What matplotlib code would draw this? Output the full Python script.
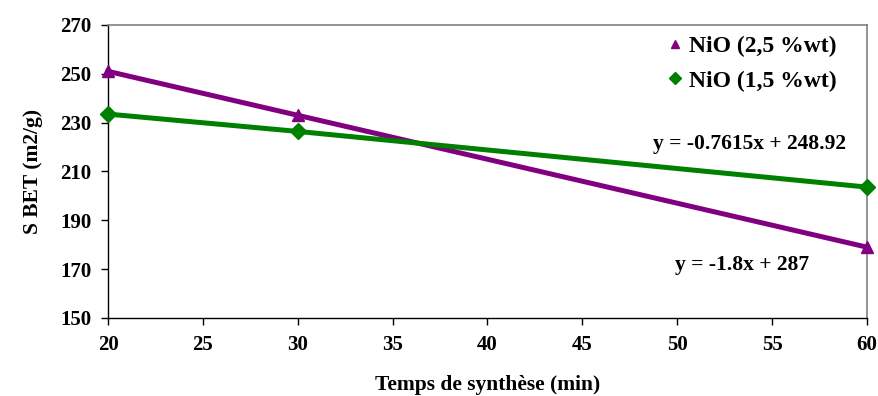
import matplotlib
matplotlib.use("Agg")
import matplotlib.pyplot as plt

x = [20, 30, 60]
nio_25 = [251, 233, 179]
nio_15 = [233.5, 226.4, 203.6]
xticks = [20, 25, 30, 35, 40, 45, 50, 55, 60]
yticks = [150, 170, 190, 210, 230, 250, 270]

plt.rcParams['font.family'] = ['Liberation Serif', 'DejaVu Serif']
plt.rcParams['font.weight'] = 'bold'

fig = plt.figure(figsize=(8.79, 3.96), dpi=100)
ax = fig.add_axes([0.1229, 0.197, 0.8634, 0.740])

purple = '#800080'
green = '#008000'
ax.plot(x, nio_25, color=purple, lw=3.6, marker='^', ms=8, label='NiO (2,5 %wt)', clip_on=False, zorder=3)
ax.plot(x, nio_15, color=green, lw=3.6, marker='D', ms=8, label='NiO (1,5 %wt)', clip_on=False, zorder=3)

ax.set_xlim(20, 60)
ax.set_ylim(150, 270)
ax.set_xticks(xticks)
ax.set_yticks(yticks)
ax.tick_params(axis='both', direction='out', length=5, width=1, labelsize=15, pad=7)
for lab in ax.get_xticklabels() + ax.get_yticklabels():
    lab.set_fontweight('bold')
for s in ['top', 'right']:
    ax.spines[s].set_color('#808080')
    ax.spines[s].set_linewidth(1.2)
for s in ['left', 'bottom']:
    ax.spines[s].set_color('black')
    ax.spines[s].set_linewidth(1)

ax.set_xlabel('Temps de synthèse (min)', fontsize=15.5, fontweight='bold', labelpad=15)
ax.set_ylabel('S BET (m2/g)', fontsize=15.5, fontweight='bold', labelpad=12)

ax.text(0.845, 0.595, 'y = -0.7615x + 248.92', transform=ax.transAxes, ha='center', va='center',
        fontsize=15.5, fontweight='bold')
ax.text(0.835, 0.18, 'y = -1.8x + 287', transform=ax.transAxes, ha='center', va='center',
        fontsize=15.5, fontweight='bold')

leg = ax.legend(loc='upper right', bbox_to_anchor=(0.982, 1.02), frameon=False,
                prop={'size': 17, 'weight': 'bold'}, handlelength=0.6, handletextpad=0.3,
                labelspacing=0.55, borderaxespad=0.3)
for h in leg.legend_handles:
    h.set_linestyle('None')
    h.set_markersize(6)

fig.savefig('out.png', dpi=100)
